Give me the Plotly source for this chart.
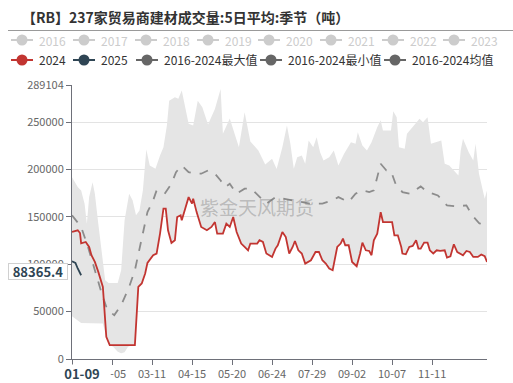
import plotly.graph_objects as go

YEAR = "2024-"

# ---------------- data ----------------
s2024_dates = ["01-01","01-06","01-08","01-09","01-13","01-16","01-18","01-21","01-24","01-27",
               "01-28","01-31","02-03","02-25","02-28","03-02","03-05","03-07","03-12","03-15",
               "03-18","03-21","03-23","03-25","03-28","03-31","04-02","04-05","04-06","04-09",
               "04-12","04-15","04-16","04-19","04-23","04-28","05-02","05-05","05-07","05-12",
               "05-15","05-18","05-21","05-24","05-28","05-31","06-03","06-05","06-11","06-13",
               "06-16","06-19","06-24","06-27","06-29","07-03","07-06","07-09","07-12","07-14",
               "07-17","07-20","07-23","07-28","08-01","08-04","08-07","08-10","08-13","08-16",
               "08-18","08-20","08-23","08-25","08-27","08-30","09-02","09-06","09-09","09-11",
               "09-14","09-17","09-19","09-21","09-24","09-26","09-27","09-29","10-07","10-09",
               "10-12","10-15","10-16","10-19","10-22","10-25","10-28","10-30","11-01","11-04",
               "11-07","11-09","11-12","11-15","11-18","11-22","11-24","11-27","11-30","12-03",
               "12-08","12-11","12-14","12-17","12-21","12-24","12-27","12-29"]
s2024_vals = [134000,135800,132900,122100,123500,118200,109500,102400,91900,81400,
              76100,23500,14700,14700,76100,79700,90200,101400,109500,111200,
              132300,158600,158600,135800,122400,125300,149800,151600,146300,158600,
              170800,163900,169200,155000,139300,135800,139300,144500,132300,132300,
              142800,139300,149800,134000,121800,118200,114700,121800,121800,125300,
              123500,111300,107700,116500,120000,134000,128700,111300,118200,124500,
              114700,111300,100700,104200,112900,112900,104200,100700,95500,93700,
              104200,118200,121800,127000,120000,120000,102400,97900,111300,122800,
              114700,114000,109500,125300,132300,149800,155000,144500,144500,130500,
              130500,118200,111300,110500,118200,119300,125300,116500,116500,122800,
              122800,114700,111300,114700,114000,114700,107000,108400,121000,112900,
              109500,114000,112900,107700,107700,110200,108400,102400]

s2025_dates = ["01-01","01-04","01-06","01-09"]
s2025_vals = [103200,101400,95500,88365.4]

mean_dates = ["01-01","01-09","01-15","01-21","01-27","02-01","02-07","02-13","02-20","02-25",
              "02-29","03-05","03-07","03-12","03-15","03-22","03-28","04-01","04-06","04-12",
              "04-18","04-23","04-29","05-05","05-10","05-14","05-18","05-24","05-31","06-06",
              "06-12","06-19","06-27","07-10","07-27","08-07","08-16","08-21","08-30","09-05",
              "09-11","09-17","09-21","09-24","09-27","10-02","10-06","10-10","10-16","10-23",
              "11-01","11-07","11-16","11-24","12-03","12-11","12-16","12-22","12-29"]
mean_vals = [151600,139300,118200,93700,69200,51600,46300,56800,76100,93700,
             114700,142800,155000,167400,177900,174400,184900,197200,204200,197200,
             195500,195500,198900,195500,188400,181400,184900,174400,179700,179700,
             172600,163900,170800,168000,163900,163900,167400,170800,165600,174400,
             177900,176100,177900,191900,206000,198900,198200,184900,176100,174400,
             182100,176100,172600,162100,161000,162100,151600,143500,139300]

max_dates = ["01-01","01-06","01-09","01-12","01-14","01-16","01-19","01-21","01-24","01-27",
             "01-30","02-02","02-10","02-13","02-16","02-20","02-23","02-26","02-29","03-03",
             "03-06","03-09","03-12","03-14","03-18","03-21","03-24","03-26","03-31","04-03",
             "04-06","04-09","04-12","04-16","04-20","04-24","04-29","05-05","05-10","05-12",
             "05-18","05-23","05-26","05-31","06-05","06-12","06-18","06-24","06-28","07-03",
             "07-07","07-10","07-13","07-16","07-20","07-23","07-26","07-30","08-02","08-05",
             "08-08","08-13","08-17","08-21","08-26","09-01","09-05","09-07","09-11","09-15",
             "09-19","09-24","09-27","09-29","10-06","10-08","10-11","10-13","10-18","10-20",
             "10-25","10-31","11-03","11-07","11-10","11-14","11-19","11-22","11-26","11-30",
             "12-04","12-06","12-08","12-13","12-17","12-19","12-22","12-27","12-29"]
max_vals = [191900,181400,177900,163900,142800,170800,186600,174400,142800,111300,
            83200,80300,80300,93700,146300,174400,167400,151600,156800,177900,
            221000,204200,202400,200700,214700,223500,246300,272600,276100,274700,
            283200,265600,248100,246300,272600,265600,247400,263900,284900,237600,
            253700,234700,223500,260300,229500,220000,205300,211300,200500,223500,
            246300,227000,200700,212900,214700,206000,230500,223500,234000,218200,
            209500,212900,220000,204200,216500,228700,227000,239300,225300,220000,
            228700,244500,252000,241000,241000,261400,255000,223500,221800,237600,
            244500,253400,249800,255000,227000,228700,230500,206000,204200,198900,
            193700,220000,232300,218200,209500,227000,195500,169200,177900]

# minimum before it merges with the 2024 line (from 02-28 on the minimum is 2024 itself)
min_early_dates = ["01-01","01-09","01-28","01-31","02-03","02-06","02-10","02-13","02-16",
                   "02-19","02-23","02-25"]
min_early_vals = [45000,38000,37500,23500,14700,13000,7700,6000,7000,13000,14700,14700]

y_tick_vals = [0, 50000, 100000, 150000, 200000, 250000, 289104]
y_tick_text = ["0", "50000", "100000", "150000", "200000", "250000", "289104"]
x_tick_dates = ["01-01","02-05","03-11","04-15","05-20","06-24","07-29","09-02","10-07","11-11"]
x_tick_text = ["", "02-05","03-11","04-15","05-20","06-24","07-29","09-02","10-07","11-11"]

legend_row1 = ["2016","2017","2018","2019","2020","2021","2022","2023"]
legend_row2 = ["2024","2025","2016-2024最大值","2016-2024最小值","2016-2024均值"]

title_text = "【RB】237家贸易商建材成交量:5日平均:季节（吨）"
watermark = "紫金天风期货"
pointer_y_text = "88365.4"
pointer_x_text = "01-09"

# ---------------- helpers ----------------
def d(lst):
    return [YEAR + s for s in lst]

min_dates = min_early_dates + s2024_dates[14:]
min_vals = min_early_vals + s2024_vals[14:]

W, H = 513, 383
L, R, T, B = 72, 26, 85, 24
PW, PH = W - L - R, H - T - B

def px(x):
    return (x - L) / PW

def py(y):
    return (H - B - y) / PH

FONT = "Noto Sans CJK SC, Noto Sans, sans-serif"
RED = "#c23531"
NAVY = "#2f4554"
GRAY = "#666666"
LIGHT = "#cccccc"

fig = go.Figure()

# band between min and max
fig.add_trace(go.Scatter(
    x=d(max_dates) + d(min_dates)[::-1],
    y=max_vals + min_vals[::-1],
    fill="toself", fillcolor="#e5e5e5", mode="lines",
    line=dict(width=0, color="#e5e5e5"), hoverinfo="skip", showlegend=False))

fig.add_trace(go.Scatter(x=d(mean_dates), y=mean_vals, mode="lines",
                         line=dict(color="#8c8c8c", width=1.8, dash="dash"), showlegend=False))
fig.add_trace(go.Scatter(x=d(s2024_dates), y=s2024_vals, mode="lines",
                         line=dict(color=RED, width=1.8), showlegend=False))
fig.add_trace(go.Scatter(x=d(s2025_dates), y=s2025_vals, mode="lines",
                         line=dict(color=NAVY, width=1.8), showlegend=False))

shapes = []
annotations = []

# title and separator
annotations.append(dict(xref="paper", yref="paper", x=px(20), y=py(17), xanchor="left", yanchor="middle",
                        text="<b>" + title_text + "</b>", showarrow=False,
                        font=dict(family=FONT, size=14, color="#333333")))
shapes.append(dict(type="line", xref="paper", yref="paper", x0=px(8), x1=px(513), y0=py(30.5), y1=py(30.5),
                   line=dict(color="#9a9a9a", width=1)))

# legend
row1_cx = [22, 84, 146, 208, 269, 331, 393, 454]
row2_cx = [22, 84, 147, 271, 395]
row2_col = [RED, NAVY, GRAY, GRAY, GRAY]

def legend_item(cx, cy, color, label, tcolor):
    shapes.append(dict(type="line", xref="paper", yref="paper", x0=px(cx - 11), x1=px(cx + 11),
                       y0=py(cy), y1=py(cy), line=dict(color=color, width=2)))
    shapes.append(dict(type="circle", xref="paper", yref="paper", x0=px(cx - 5.5), x1=px(cx + 5.5),
                       y0=py(cy + 5.5), y1=py(cy - 5.5), fillcolor=color, line=dict(color=color, width=0)))
    annotations.append(dict(xref="paper", yref="paper", x=px(cx + 15), y=py(cy), xanchor="left",
                            yanchor="middle", text=label, showarrow=False,
                            font=dict(family=FONT, size=12, color=tcolor)))

for cx, lab in zip(row1_cx, legend_row1):
    legend_item(cx, 40, LIGHT, lab, LIGHT)
for cx, lab, col in zip(row2_cx, legend_row2, row2_col):
    legend_item(cx, 60, col, lab, "#333333")

# watermark
annotations.append(dict(xref="paper", yref="paper", x=px(257), y=py(206), xanchor="center", yanchor="middle",
                        text=watermark, showarrow=False,
                        font=dict(family=FONT, size=19, color="rgba(120,120,120,0.4)")))

# axis pointer labels
annotations.append(dict(xref="paper", yref="paper", x=px(38), y=py(271), xanchor="center", yanchor="middle",
                        text="<b>" + pointer_y_text + "</b>", showarrow=False, width=58, height=15,
                        bgcolor="white", bordercolor="#d0d0d0", borderwidth=1, borderpad=0,
                        font=dict(family=FONT, size=13, color=NAVY)))
annotations.append(dict(xref="paper", yref="paper", x=px(82), y=py(373), xanchor="center", yanchor="middle",
                        text="<b>" + pointer_x_text + "</b>", showarrow=False, width=56, height=16,
                        bgcolor="white", borderpad=0,
                        font=dict(family=FONT, size=13, color=NAVY)))

fig.update_layout(
    width=W, height=H,
    margin=dict(l=L, r=R, t=T, b=B, pad=0, autoexpand=False),
    paper_bgcolor="white", plot_bgcolor="white",
    showlegend=False,
    shapes=shapes, annotations=annotations,
    font=dict(family=FONT, size=11, color=GRAY),
    xaxis=dict(type="date", range=[YEAR + "01-01", YEAR + "12-29"],
               tickvals=d(x_tick_dates), ticktext=x_tick_text, automargin=False,
               showgrid=False, zeroline=False, showline=True, linecolor="#6e7079", linewidth=1,
               ticks="outside", ticklen=5, tickcolor="#6e7079",
               tickfont=dict(family=FONT, size=11, color=GRAY)),
    yaxis=dict(range=[0, 289104], tickvals=y_tick_vals, ticktext=y_tick_text, automargin=False,
               showgrid=True, gridcolor="#e3e3e3", gridwidth=1, zeroline=False,
               showline=True, linecolor="#6e7079", linewidth=1,
               ticks="outside", ticklen=5, tickcolor="#6e7079",
               tickfont=dict(family=FONT, size=11, color=GRAY)),
)

fig.write_html("out.html", config={"displayModeBar": False},
               post_script="document.body.style.margin='0';document.body.style.padding='0';")
